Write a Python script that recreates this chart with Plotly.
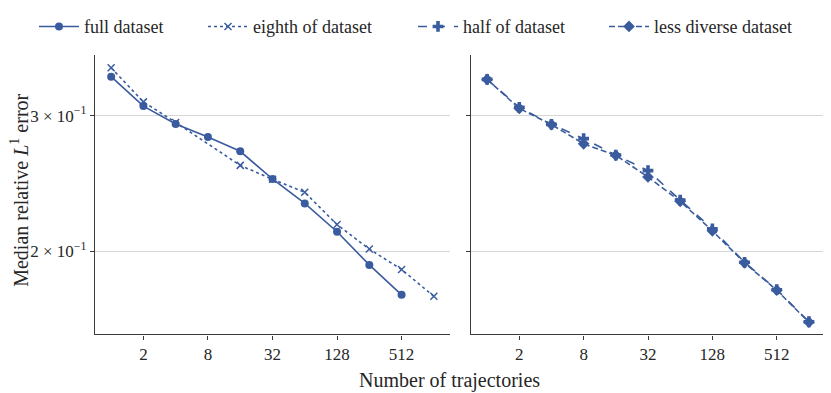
import plotly.graph_objects as go
from plotly.subplots import make_subplots
import math

# number of trajectories
traj = [1, 2, 4, 8, 16, 32, 64, 128, 256, 512]
traj_eighth = [1, 2, 4, 16, 32, 64, 128, 256, 512, 1024]
traj_right = [1, 2, 4, 8, 16, 32, 64, 128, 256, 512, 1024]

# median relative L1 error
err_full = [0.337, 0.3086, 0.2925, 0.2814, 0.2696, 0.2482, 0.2307, 0.2120, 0.1920, 0.1756]
err_eighth = [0.346, 0.3125, 0.2939, 0.2585, 0.2480, 0.2385, 0.2166, 0.2013, 0.1894, 0.1748]
err_half = [0.3342, 0.3075, 0.2922, 0.2800, 0.2666, 0.2545, 0.2330, 0.2138, 0.1935, 0.1783, 0.1620]
err_diverse = [0.3342, 0.3065, 0.2920, 0.2757, 0.2664, 0.2497, 0.2322, 0.2126, 0.1932, 0.1780, 0.1618]

blue = "#3A5C9F"
font = "Liberation Serif"

# the page body has an 8px margin, so the figure is made smaller and
# positions are given in page pixels minus that offset
OFF = 8
W, H = 831 - OFF, 393 - OFF


def px(x):
    return (x - OFF) / W


def py(y):
    return (H - (y - OFF)) / H


fig = make_subplots(rows=1, cols=2, shared_yaxes=True)

fig.add_trace(go.Scatter(x=traj, y=err_full, name="full dataset", mode="lines+markers", legend="legend",
                         line=dict(color=blue, width=1.6),
                         marker=dict(symbol="circle", size=8, color=blue)), row=1, col=1)
fig.add_trace(go.Scatter(x=traj_eighth, y=err_eighth, name="eighth of dataset", mode="lines+markers",
                         legend="legend2",
                         line=dict(color=blue, width=1.6, dash="dot"),
                         marker=dict(symbol="x-thin-open", size=7, line=dict(color=blue, width=1.5))),
              row=1, col=1)
fig.add_trace(go.Scatter(x=traj_right, y=err_half, name="half of dataset", mode="lines+markers",
                         legend="legend3",
                         line=dict(color=blue, width=1.6, dash="dash"),
                         marker=dict(symbol="cross", size=9, color=blue)), row=1, col=2)
fig.add_trace(go.Scatter(x=traj_right, y=err_diverse, name="less diverse dataset", mode="lines+markers",
                         legend="legend4",
                         line=dict(color=blue, width=1.6, dash="6px,3px"),
                         marker=dict(symbol="diamond", size=9, color=blue)), row=1, col=2)

xrange = [math.log10(2 ** -0.5), math.log10(2 ** 10.5)]
yrange = [math.log10(0.156), math.log10(0.3594)]

axis_common = dict(showline=True, linecolor="#3a3a3a", linewidth=1.4, ticks="outside",
                   ticklen=4, tickwidth=1.2, tickcolor="#3a3a3a", mirror=False, zeroline=False,
                   automargin=False, tickfont=dict(size=17))

fig.update_xaxes(type="log", range=xrange, tickvals=[2, 8, 32, 128, 512],
                 ticktext=["2", "8", "32", "128", "512"], showgrid=False, **axis_common)
fig.update_yaxes(type="log", range=yrange, tickvals=[0.2, 0.3],
                 showgrid=True, gridcolor="#d6d6d6", gridwidth=1, **axis_common)
fig.update_yaxes(ticktext=["2 × 10<sup>−1</sup>", "3 × 10<sup>−1</sup>"], row=1, col=1)
fig.update_yaxes(showticklabels=False, row=1, col=2)

ydom = [py(333), py(47)]
leg = dict(orientation="h", yanchor="middle", y=py(18), xanchor="left",
           font=dict(size=18), itemwidth=40, bgcolor="rgba(0,0,0,0)")

fig.update_layout(
    xaxis=dict(domain=[px(95), px(450)]),
    xaxis2=dict(domain=[px(471), px(825)]),
    yaxis=dict(domain=ydom),
    yaxis2=dict(domain=ydom),
    width=W, height=H,
    margin=dict(l=0, r=0, t=0, b=0),
    plot_bgcolor="white", paper_bgcolor="white",
    font=dict(family=font, size=17, color="#262626"),
    showlegend=True,
    legend=dict(leg, x=px(34)),
    legend2=dict(leg, x=px(203)),
    legend3=dict(leg, x=px(413)),
    legend4=dict(leg, x=px(604)),
    annotations=[
        dict(text="Number of trajectories", x=px(450), y=py(380), xref="paper", yref="paper",
             xanchor="center", yanchor="middle", showarrow=False, font=dict(size=20)),
        dict(text="Median relative <i>L</i><sup>1</sup> error", x=px(19), y=py(186),
             xref="paper", yref="paper", xanchor="center", yanchor="middle",
             textangle=-90, showarrow=False, font=dict(size=20)),
    ],
)

fig.write_html("out.html")
